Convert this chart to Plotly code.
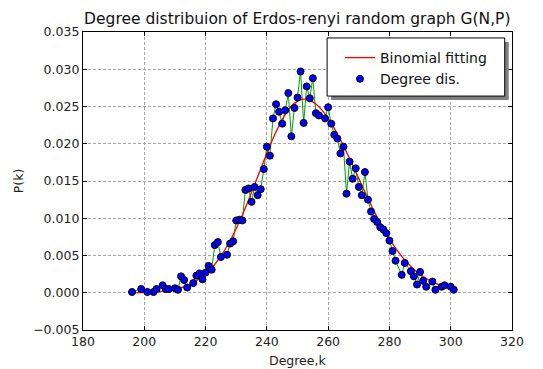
import plotly.graph_objects as go

# Degree distribution (measured)
deg_k = [196, 199, 201, 203, 204, 206, 207, 208, 210, 211, 212, 213, 214, 216, 217, 218, 219,
         220, 221, 222, 223, 224, 225, 227, 228, 229, 230, 231, 232, 233, 234, 235, 236, 237, 238,
         239, 240, 241, 242, 243, 244, 245, 246, 247, 248, 249, 250, 251, 252, 253, 254, 255, 256,
         257, 259, 260, 261, 262, 263, 264, 265, 266, 267, 268, 269, 270, 271, 272, 273, 274, 275,
         276, 277, 278, 279, 280, 281, 282, 284, 285, 287, 288, 289, 290, 291, 292, 294, 295, 297,
         298, 300, 301]
deg_p = [0.0001, 0.0005, 0.0001, 0.0001, 0.0005, 0.0010, 0.0005, 0.0005, 0.0006, 0.0004, 0.0022,
         0.0017, 0.0007, 0.0013, 0.0023, 0.0026, 0.0018,
         0.0027, 0.0036, 0.0031, 0.0064, 0.0068, 0.0048, 0.0051, 0.0066, 0.0069, 0.0097, 0.0098,
         0.0097, 0.0138, 0.0140, 0.0122, 0.0142, 0.0131, 0.0139,
         0.0166, 0.0196, 0.0184, 0.0234, 0.0253, 0.0243, 0.0227, 0.0245, 0.0268, 0.0210, 0.0248,
         0.0262, 0.0297, 0.0228, 0.0277, 0.0261, 0.0288, 0.0241,
         0.0238, 0.0234, 0.0249, 0.0227, 0.0212, 0.0207, 0.0187, 0.0196, 0.0133, 0.0176, 0.0153,
         0.0167, 0.0142, 0.0131, 0.0162, 0.0125, 0.0109, 0.0099,
         0.0095, 0.0088, 0.0085, 0.0080, 0.0070, 0.0056, 0.0043, 0.0024, 0.0040, 0.0029, 0.0022,
         0.0011, 0.0028, 0.0016, 0.0008, 0.0015, 0.0004, 0.0008,
         0.0010, 0.0008, 0.0004]

# Binomial fitting curve
fit_k = [195, 198, 201, 204, 207, 210, 213, 216, 219, 222, 225, 228, 231, 234, 237, 240, 243, 246,
         249, 252, 255, 258, 261, 264, 267, 270, 273, 276, 279, 282, 285, 288, 291, 294, 297, 300]
fit_p = [0.00002, 0.00003, 0.00007, 0.00014, 0.00026, 0.00046, 0.00081, 0.00135, 0.00217,
         0.00333, 0.00492, 0.00698, 0.00950, 0.01241, 0.01556, 0.01871, 0.02161, 0.02395,
         0.02547, 0.02600, 0.02562, 0.02452, 0.02278, 0.02055, 0.01801, 0.01532, 0.01266,
         0.01015, 0.00791, 0.00598, 0.00439, 0.00313, 0.00217, 0.00146, 0.00095, 0.00061]

x_ticks = [180, 200, 220, 240, 260, 280, 300, 320]
y_ticks = [-0.005, 0.0, 0.005, 0.010, 0.015, 0.020, 0.025, 0.030, 0.035]

FONT = "DejaVu Sans"

fig = go.Figure()
fig.add_trace(go.Scatter(x=deg_k, y=deg_p, mode="lines", line=dict(color="#00a000", width=1),
                         showlegend=False, hoverinfo="skip"))
fig.add_trace(go.Scatter(x=fit_k, y=fit_p, mode="lines", name="Binomial fitting",
                         line=dict(color="#ff0000", width=1.3, shape="spline")))
fig.add_trace(go.Scatter(x=deg_k, y=deg_p, mode="markers", name="Degree dis.",
                         marker=dict(color="#0000ff", size=7, line=dict(color="black", width=1))))

axis_common = dict(showline=True, linecolor="black", linewidth=1.2, mirror="allticks",
                   ticks="inside", ticklen=4, tickcolor="black", tickwidth=1,
                   showgrid=True, gridcolor="#a8a8a8", griddash="3px,2px", gridwidth=1,
                   zeroline=False, automargin=False,
                   tickfont=dict(family=FONT, size=12.5, color="#222"))

fig.update_xaxes(range=[180, 320], tickvals=x_ticks, ticktext=[str(v) for v in x_ticks],
                 **axis_common)
fig.update_yaxes(range=[-0.005, 0.035], tickvals=y_ticks, tickformat=".3f",
                 title=dict(text="P(k)", font=dict(family=FONT, size=12.5, color="#222"), standoff=6),
                 **axis_common)

# x-axis title placed below the tick labels
fig.add_annotation(text="Degree,k", xref="paper", yref="paper", x=0.5, y=-(360 - 330) / 298,
                   xanchor="center", yanchor="middle", showarrow=False,
                   font=dict(family=FONT, size=12.5, color="#222"))

# legend frame with drop shadow (paper coordinates)
box_x0, box_x1, box_y0, box_y1 = 0.569, 0.983, 0.785, 0.980
sx, sy = 4 / 429.7, 4 / 298
fig.add_shape(type="rect", xref="paper", yref="paper", layer="above",
              x0=box_x0 + sx, x1=box_x1 + sx, y0=box_y0 - sy, y1=box_y1 - sy,
              fillcolor="#7f7f7f", line=dict(width=0))
fig.add_shape(type="rect", xref="paper", yref="paper", layer="above",
              x0=box_x0, x1=box_x1, y0=box_y0, y1=box_y1,
              fillcolor="white", line=dict(color="black", width=1))

fig.update_layout(
    width=543, height=369,
    margin=dict(l=83, r=31, t=32, b=39),
    paper_bgcolor="white", plot_bgcolor="white",
    font=dict(family=FONT, color="#222"),
    title=dict(text="Degree distribuion of Erdos-renyi random graph G(N,P)",
               font=dict(family=FONT, size=15.5, color="#111"),
               x=0.5475, xanchor="center", y=0.951, yanchor="middle"),
    legend=dict(x=(340 - 82.6) / 429.7, xanchor="left", y=0.9664, yanchor="top",
                bgcolor="rgba(0,0,0,0)", borderwidth=0,
                font=dict(family=FONT, size=14, color="#111"),
                itemwidth=30),
)

fig.write_html("out.html")
